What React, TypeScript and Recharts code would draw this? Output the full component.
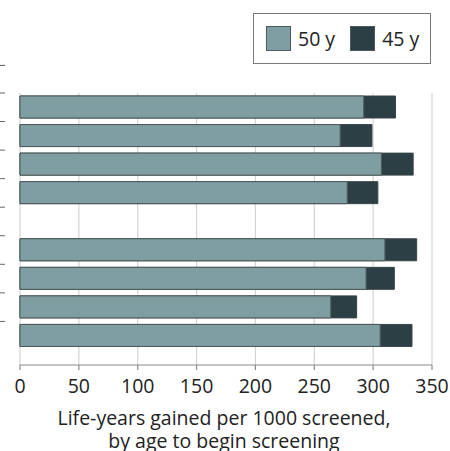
import React from 'react';
import { BarChart, Bar, XAxis, YAxis, CartesianGrid, Legend } from 'recharts';

const categories = ['Strategy A', 'Strategy B', 'Strategy C', 'Strategy D', '', 'Strategy E', 'Strategy F', 'Strategy G', 'Strategy H'];
const lifeYears50 = [292, 272, 307, 278, null, 310, 294, 264, 306];
const lifeYears45 = [319, 299, 334, 304, null, 337, 318, 286, 333];
const xTicks = [0, 50, 100, 150, 200, 250, 300, 350];
const seriesNames = ['50 y', '45 y'];

const COLOR_50 = '#7f9ea1';
const COLOR_45 = '#2c3f45';
const FONT = "'Open Sans', 'Noto Sans', sans-serif";
const HALF_BAND = 14.3;

const data = categories.map((c, i) => ({ category: c, y50: lifeYears50[i], y45: lifeYears45[i] }));

const legendItems = [
  { name: seriesNames[0], color: COLOR_50 },
  { name: seriesNames[1], color: COLOR_45 },
];

const LegendBox = () => (
  <div
    style={{
      border: '1.5px solid #7a7a7a',
      width: 178,
      height: 51,
      boxSizing: 'border-box',
      display: 'flex',
      alignItems: 'center',
      paddingLeft: 12,
      fontFamily: FONT,
      fontSize: 19.5,
      color: '#222',
      background: '#fff',
    }}
  >
    {legendItems.map((it, i) => (
      <div key={it.name} style={{ display: 'flex', alignItems: 'center', marginRight: i === 0 ? 15 : 0 }}>
        <div style={{ width: 23, height: 23, background: it.color, border: '1px solid #4d5a5c', marginRight: 7 }} />
        <span>{it.name}</span>
      </div>
    ))}
  </div>
);

const AxisTitle = (props: any) => {
  const vb = props.viewBox || {};
  const cx = vb.x + vb.width / 2 - 2;
  return (
    <text x={cx} y={vb.y + 60} textAnchor="middle" fontFamily={FONT} fontSize={19.5} fill="#222">
      <tspan x={cx}>Life-years gained per 1000 screened,</tspan>
      <tspan x={cx} dy={23}>by age to begin screening</tspan>
    </text>
  );
};

// small tick marks at the left edge, at the upper boundary of each row band
const RowTick = (p: any) => {
  const yTop = p.y - HALF_BAND;
  return (
    <g>
      <line x1={0} x2={5} y1={yTop} y2={yTop} stroke="#666" strokeWidth={1} />
      {p.index === 0 ? (
        <line x1={0} x2={5} y1={yTop - 2 * HALF_BAND + 1} y2={yTop - 2 * HALF_BAND + 1} stroke="#555" strokeWidth={1} />
      ) : null}
    </g>
  );
};

export default function App() {
  return (
    <div style={{ position: 'absolute', left: 0, top: 0, background: '#fff' }}>
      <BarChart
        width={450}
        height={451}
        data={data}
        layout="vertical"
        barGap={-22}
        margin={{ top: 93, right: 18, bottom: 0, left: 0 }}
      >
        <CartesianGrid horizontal={false} vertical={true} stroke="#d4d4d4" strokeWidth={1.2} />
        <XAxis
          type="number"
          domain={[0, 350]}
          ticks={xTicks}
          interval={0}
          height={86}
          tickSize={5}
          tickMargin={9}
          axisLine={{ stroke: '#8a8a8a', strokeWidth: 1.2 }}
          tickLine={{ stroke: '#8a8a8a', strokeWidth: 1.2 }}
          tick={{ fontFamily: FONT, fontSize: 19.5, fill: '#222' }}
          label={{ content: AxisTitle }}
        />
        <YAxis
          type="category"
          dataKey="category"
          width={20}
          interval={0}
          tick={RowTick}
          axisLine={false}
          tickLine={false}
          padding={{ top: 0, bottom: 15 }}
        />
        <Legend
          layout="horizontal"
          verticalAlign="middle"
          align="center"
          content={() => <LegendBox />}
          wrapperStyle={{ position: 'absolute', left: 253, top: 13, width: 178 }}
        />
        <Bar dataKey="y45" name={seriesNames[1]} fill={COLOR_45} stroke="#3a4547" strokeWidth={1} barSize={22} isAnimationActive={false} />
        <Bar dataKey="y50" name={seriesNames[0]} fill={COLOR_50} stroke="#4d5a5c" strokeWidth={1} barSize={22} isAnimationActive={false} />
      </BarChart>
    </div>
  );
}
